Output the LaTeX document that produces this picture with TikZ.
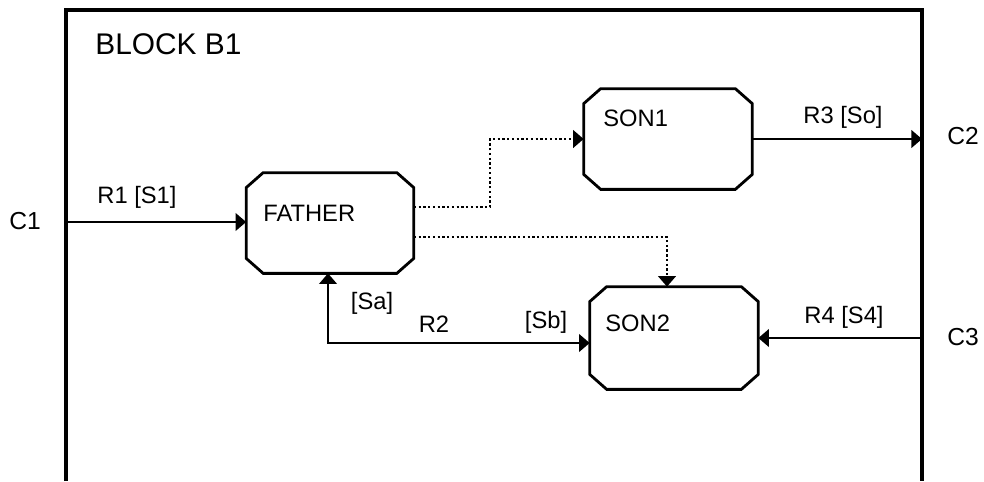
\documentclass[tikz,border=0pt]{standalone}
\usepackage{fontspec}
\setmainfont{Liberation Sans}
\usetikzlibrary{arrows.meta,calc}

\begin{document}
\begin{tikzpicture}[x=0.02cm, y=-0.02cm,
    proc/.style={rectangle, minimum width=3.34cm, minimum height=2cm, inner sep=0pt},
    lbl/.style={inner sep=0pt, font=\fontsize{13.5}{16}\selectfont},
    flow/.style={line width=1.1pt, -{Triangle[length=6pt,width=10pt]}},
    sig/.style={line width=1.3pt, dash pattern=on 1.3pt off 1.4pt, -{Triangle[length=6pt,width=10pt]}}]
    \useasboundingbox (0,0) rectangle (984,481);

    % Block
    \draw[line width=2.8pt] (66,481) -- (66,10) -- (922,10) -- (922,481);
    \node[lbl, anchor=west, font=\fontsize{17}{20}\selectfont] (blockname) at (95,44) {BLOCK B1};

    % Processes
    \node[proc] (father) at (330,223) {};
    \node[proc, minimum width=3.36cm] (son1) at (668,139) {};
    \node[proc, minimum width=3.36cm, minimum height=2.04cm] (son2) at (674,338) {};
    \foreach \n in {father,son1,son2}
      \draw[line width=1.6pt] ($(\n.north west)+(17,0)$) -- ($(\n.north east)+(-17,0)$) -- ($(\n.north east)+(0,15)$) -- ($(\n.south east)+(0,-15)$) -- ($(\n.south east)+(-17,0)$) -- ($(\n.south west)+(17,0)$) -- ($(\n.south west)+(0,-15)$) -- ($(\n.north west)+(0,15)$) -- cycle;
    \node[lbl, anchor=west] (fathertxt) at (263,213) {FATHER};
    \node[lbl, anchor=west] (son1txt) at (603,118) {SON1};
    \node[lbl, anchor=west] (son2txt) at (605,323) {SON2};

    % Channel ends
    \coordinate (c1) at (66,222);
    \coordinate (c2) at (922,139);
    \coordinate (c3) at (922,338);
    \node[lbl, font=\fontsize{14}{16}\selectfont] (c1lbl) at (25,221) {C1};
    \node[lbl, font=\fontsize{14}{16}\selectfont] (c2lbl) at (963,136) {C2};
    \node[lbl, font=\fontsize{14}{16}\selectfont] (c3lbl) at (963,337) {C3};

    % Routes
    \draw[flow] (c1) -- (c1 -| father.west);
    \node[lbl] (r1lbl) at (137,197) {R1 [S1]};
    \draw[flow] (son1.east) -- (son1.east -| c2);
    \node[lbl] (r3lbl) at (843,117) {R3 [So]};
    \draw[flow] (c3) -- (c3 -| son2.east);
    \node[lbl] (r4lbl) at (844,317) {R4 [S4]};
    \draw[line width=1.1pt, {Triangle[length=6pt,width=10pt]}-{Triangle[length=6pt,width=10pt]}] ($(son2.west)+(0,5)$) -| ($(father.south)+(-2,0)$);
    \node[lbl] (salbl) at (372,303) {[Sa]};
    \node[lbl] (r2lbl) at (434,324) {R2};
    \node[lbl] (sblbl) at (546,322) {[Sb]};

    % Signals
    \draw[sig] ($(father.east)+(0,-16)$) -| (490,139) -- (son1.west);
    \draw[sig] ($(father.east)+(0,14)$) -| ($(son2.north)+(-7,0)$);
\end{tikzpicture}
\end{document}
